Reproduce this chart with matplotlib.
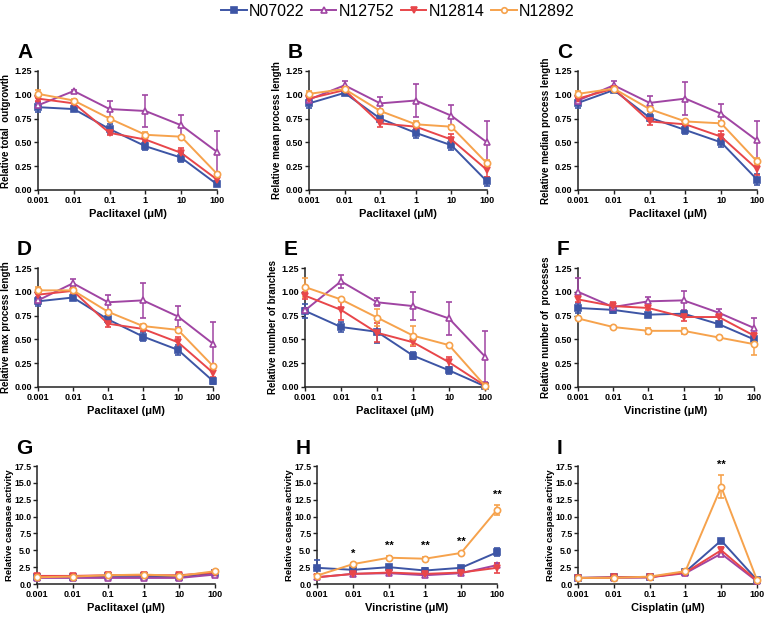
import matplotlib
matplotlib.use("Agg")
import matplotlib.pyplot as plt
from matplotlib.lines import Line2D

plt.rcParams['font.family'] = ['Liberation Sans', 'DejaVu Sans']

doses = [0.001, 0.01, 0.1, 1, 10, 100]
dose_labels = ['0.001', '0.01', '0.1', '1', '10', '100']
lines = ['N07022', 'N12752', 'N12814', 'N12892']
colors = ['#3d55a5', '#a045a3', '#e8464a', '#f6a24c']
markers = ['s', '^', 'v', 'o']
filled = [True, False, True, False]

# series order in every list: N07022, N12752, N12814, N12892
A_means = [[0.87, 0.85, 0.64, 0.46, 0.34, 0.06],
           [0.89, 1.04, 0.85, 0.83, 0.68, 0.40],
           [0.96, 0.91, 0.60, 0.53, 0.39, 0.11],
           [1.01, 0.94, 0.75, 0.58, 0.56, 0.17]]
A_errs = [[0.05, 0.02, 0.05, 0.04, 0.05, 0.02],
          [0.03, 0.01, 0.08, 0.17, 0.11, 0.22],
          [0.02, 0.02, 0.02, 0.02, 0.05, 0.02],
          [0.04, 0.02, 0.02, 0.03, 0.01, 0.02]]

B_means = [[0.91, 1.02, 0.75, 0.60, 0.47, 0.09],
           [0.95, 1.10, 0.91, 0.94, 0.78, 0.50],
           [0.96, 1.05, 0.70, 0.665, 0.53, 0.21],
           [1.01, 1.06, 0.83, 0.69, 0.665, 0.28]]
B_errs = [[0.05, 0.02, 0.04, 0.05, 0.05, 0.05],
          [0.03, 0.05, 0.07, 0.17, 0.11, 0.22],
          [0.03, 0.03, 0.04, 0.02, 0.06, 0.07],
          [0.03, 0.02, 0.02, 0.03, 0.02, 0.03]]

C_means = [[0.915, 1.05, 0.76, 0.63, 0.50, 0.11],
           [0.94, 1.10, 0.915, 0.96, 0.80, 0.52],
           [0.96, 1.065, 0.72, 0.69, 0.56, 0.22],
           [1.01, 1.065, 0.85, 0.72, 0.70, 0.30]]
C_errs = [[0.05, 0.02, 0.04, 0.04, 0.05, 0.06],
          [0.03, 0.05, 0.07, 0.17, 0.10, 0.21],
          [0.03, 0.03, 0.04, 0.02, 0.06, 0.06],
          [0.03, 0.02, 0.02, 0.02, 0.02, 0.04]]

D_means = [[0.90, 0.94, 0.71, 0.53, 0.39, 0.063],
           [0.91, 1.09, 0.89, 0.91, 0.74, 0.455],
           [0.97, 1.01, 0.665, 0.61, 0.47, 0.15],
           [1.015, 1.015, 0.79, 0.64, 0.60, 0.22]]
D_errs = [[0.05, 0.02, 0.04, 0.05, 0.05, 0.03],
          [0.04, 0.04, 0.08, 0.18, 0.11, 0.225],
          [0.03, 0.03, 0.03, 0.02, 0.05, 0.04],
          [0.04, 0.02, 0.02, 0.02, 0.02, 0.02]]

E_means = [[0.80, 0.63, 0.58, 0.33, 0.175, 0.007],
           [0.805, 1.11, 0.89, 0.85, 0.72, 0.32],
           [0.96, 0.81, 0.57, 0.47, 0.26, 0.014],
           [1.05, 0.92, 0.73, 0.54, 0.44, 0.014]]
E_errs = [[0.07, 0.05, 0.12, 0.04, 0.04, 0.01],
          [0.02, 0.07, 0.04, 0.15, 0.17, 0.27],
          [0.04, 0.11, 0.10, 0.04, 0.05, 0.01],
          [0.10, 0.02, 0.09, 0.10, 0.01, 0.01]]

F_means = [[0.83, 0.81, 0.76, 0.77, 0.66, 0.50],
           [1.00, 0.84, 0.90, 0.91, 0.78, 0.62],
           [0.92, 0.85, 0.83, 0.735, 0.735, 0.54],
           [0.72, 0.63, 0.59, 0.59, 0.52, 0.45]]
F_errs = [[0.05, 0.03, 0.02, 0.03, 0.02, 0.03],
          [0.15, 0.04, 0.05, 0.10, 0.04, 0.11],
          [0.03, 0.04, 0.02, 0.04, 0.04, 0.03],
          [0.02, 0.01, 0.03, 0.03, 0.01, 0.11]]

G_means = [[1.1, 1.1, 1.2, 1.2, 1.1, 1.6],
           [0.9, 0.9, 0.9, 0.9, 0.9, 1.4],
           [1.2, 1.2, 1.3, 1.3, 1.3, 1.7],
           [1.0, 1.1, 1.3, 1.4, 1.2, 1.9]]
G_errs = [[0.1, 0.1, 0.1, 0.1, 0.1, 0.2],
          [0.1, 0.1, 0.1, 0.1, 0.1, 0.2],
          [0.1, 0.1, 0.1, 0.1, 0.1, 0.2],
          [0.1, 0.1, 0.1, 0.1, 0.1, 0.2]]

H_means = [[2.4, 2.1, 2.5, 2.0, 2.4, 4.7],
           [1.0, 1.5, 1.6, 1.3, 1.6, 2.8],
           [1.0, 1.5, 1.7, 1.5, 1.7, 2.4],
           [1.25, 2.95, 3.9, 3.75, 4.6, 11.0]]
H_errs = [[1.1, 0.3, 0.3, 0.3, 0.3, 0.6],
          [0.2, 0.3, 0.3, 0.3, 0.3, 0.3],
          [0.2, 0.3, 0.3, 0.3, 0.3, 0.7],
          [0.2, 0.2, 0.2, 0.2, 0.2, 0.7]]
H_stars = ['', '*', '**', '**', '**', '**']
H_star_y = [0, 4.5, 5.6, 5.6, 6.3, 13.2]

I_means = [[0.9, 1.0, 1.0, 1.8, 6.45, 0.6],
           [0.9, 0.9, 1.0, 1.6, 4.5, 0.4],
           [0.9, 1.0, 1.0, 1.7, 5.0, 0.5],
           [0.9, 0.9, 1.1, 1.9, 14.4, 0.6]]
I_errs = [[0.2, 0.2, 0.2, 0.2, 0.2, 0.2],
          [0.2, 0.2, 0.2, 0.2, 0.3, 0.2],
          [0.2, 0.2, 0.2, 0.2, 0.5, 0.2],
          [0.2, 0.2, 0.2, 0.3, 1.7, 0.2]]
I_stars = ['', '', '', '', '**', '']
I_star_y = [0, 0, 0, 0, 17.6, 0]

ylabels = {
    'A': 'Relative total  outgrowth', 'B': 'Relative mean process length',
    'C': 'Relative median process length', 'D': 'Relative max process length',
    'E': 'Relative number of branches', 'F': 'Relative number of  processes',
    'G': 'Relative caspase activity', 'H': 'Relative caspase activity',
    'I': 'Relative caspase activity'}
xlabels = {'A': 'Paclitaxel (\u03bcM)', 'B': 'Paclitaxel (\u03bcM)', 'C': 'Paclitaxel (\u03bcM)',
           'D': 'Paclitaxel (\u03bcM)', 'E': 'Paclitaxel (\u03bcM)', 'F': 'Vincristine (\u03bcM)',
           'G': 'Paclitaxel (\u03bcM)', 'H': 'Vincristine (\u03bcM)', 'I': 'Cisplatin (\u03bcM)'}

W, H = 765, 617
fig = plt.figure(figsize=(W / 100, H / 100), dpi=100)

# panel boxes in pixels: left, right, top, bottom
boxes = {'A': (38, 217, 71, 190), 'B': (309, 487, 71, 190), 'C': (578, 757, 71, 190),
         'D': (38, 213, 268, 387), 'E': (305, 485, 268, 387), 'F': (578, 754, 268, 387),
         'G': (37, 215, 466, 584), 'H': (317, 497, 466, 584), 'I': (578, 757, 466, 584)}
panels = {'A': (A_means, A_errs), 'B': (B_means, B_errs), 'C': (C_means, C_errs),
          'D': (D_means, D_errs), 'E': (E_means, E_errs), 'F': (F_means, F_errs),
          'G': (G_means, G_errs), 'H': (H_means, H_errs), 'I': (I_means, I_errs)}


def draw(key):
    l, r, t, b = boxes[key]
    ax = fig.add_axes([l / W, 1 - b / H, (r - l) / W, (b - t) / H])
    means, errs = panels[key]
    for m, e, c, mk, f in zip(means, errs, colors, markers, filled):
        ax.errorbar(doses, m, yerr=e, color=c, marker=mk, ms=4.5, lw=1.4,
                    mfc=c if f else 'white', mec=c, mew=1.2,
                    capsize=2.5, elinewidth=1.1, capthick=1.1, clip_on=False, zorder=3)
    ax.set_xscale('log')
    ax.set_xlim(0.001, 100)
    ax.set_xticks(doses)
    ax.set_xticklabels(dose_labels)
    ax.minorticks_off()
    caspase = key in 'GHI'
    if caspase:
        ax.set_ylim(0, 17.5)
        ax.set_yticks([0, 2.5, 5, 7.5, 10, 12.5, 15, 17.5])
        ax.set_yticklabels(['0.0', '2.5', '5.0', '7.5', '10.0', '12.5', '15.0', '17.5'])
    else:
        ax.set_ylim(0, 1.25)
        ax.set_yticks([0, 0.25, 0.5, 0.75, 1.0, 1.25])
        ax.set_yticklabels(['0.00', '0.25', '0.50', '0.75', '1.00', '1.25'])
    for s in ['top', 'right']:
        ax.spines[s].set_visible(False)
    for s in ['left', 'bottom']:
        ax.spines[s].set_linewidth(1.1)
        ax.spines[s].set_color('#222222')
    ax.tick_params(length=3, width=1, pad=1.5, labelsize=6.5, color='#222222')
    if caspase:
        ax.tick_params(axis='y', labelsize=6.3, pad=1)
    for lab in ax.get_xticklabels() + ax.get_yticklabels():
        lab.set_fontweight('bold')
    ax.set_ylabel(ylabels[key], fontsize=6.8 if caspase else 7, fontweight='bold',
                  labelpad=0.5 if caspase else 2)
    ax.set_xlabel(xlabels[key], fontsize=8, fontweight='bold', labelpad=3)
    fig.text((l - 21) / W, 1 - (t - 18) / H, key, fontsize=15, fontweight='bold',
             ha='left', va='center')
    return ax


for k in 'ABCDEFGHI':
    ax = draw(k)
    if k == 'H':
        for x, s, y in zip(doses, H_stars, H_star_y):
            if s:
                ax.text(x, y, s, ha='center', va='center', fontsize=8, fontweight='bold')
    if k == 'I':
        for x, s, y in zip(doses, I_stars, I_star_y):
            if s:
                ax.text(x, y, s, ha='center', va='center', fontsize=8, fontweight='bold')

handles = [Line2D([], [], color=c, marker=mk, ms=4, lw=1.4, mfc=c if f else 'white', mec=c, mew=1.2)
           for c, mk, f in zip(colors, markers, filled)]
fig.legend(handles, lines, loc='upper center', bbox_to_anchor=(0.52, 1.017), ncol=4,
           frameon=False, fontsize=11.5, handlelength=1.6, handletextpad=0.15, columnspacing=0.4)

fig.savefig('out.png', dpi=100)
